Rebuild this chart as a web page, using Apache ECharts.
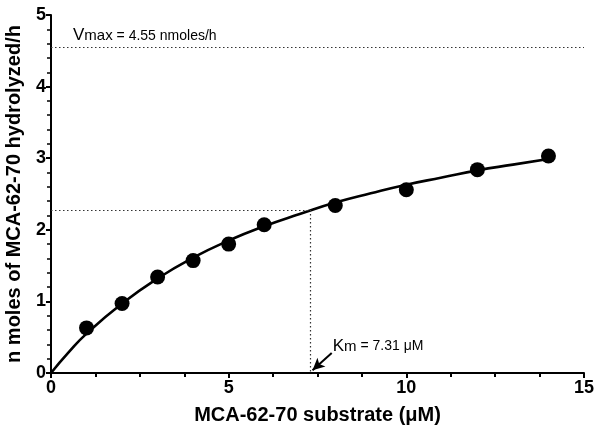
<!DOCTYPE html>
<html>
<head>
<meta charset="utf-8">
<script src="https://cdn.jsdelivr.net/npm/echarts@6/dist/echarts.min.js"></script>
<style>
  html, body { margin: 0; padding: 0; background: #fff; }
  #chart { width: 602px; height: 439px; }
</style>
</head>
<body>
<div id="chart"></div>
<script>
// measured substrate concentrations (µM) and rates (nmoles/h)
const substrate = [1, 2, 3, 4, 5, 6, 8, 10, 12, 14];
const rate = [0.63, 0.97, 1.34, 1.57, 1.80, 2.07, 2.34, 2.56, 2.84, 3.03];

// fitted curve
const fitX = [0, 0.5, 1, 2, 3, 4, 5, 6, 7, 8, 9, 10, 11, 12, 13, 14];
const fitY = [0, 0.29, 0.55, 0.97, 1.32, 1.61, 1.85, 2.05, 2.22, 2.38, 2.51, 2.63, 2.73, 2.83, 2.91, 2.99];

const vmax = 4.55;
const km = 7.31;
const halfV = 2.275;

// Km pointer: tail and tip in data units
const arrowX = [7.9, 7.36];
const arrowY = [0.28, 0.04];

const xTicks = [0, 5, 10, 15];
const yTicks = [0, 1, 2, 3, 4, 5];

const font = "'Liberation Sans', Arial, sans-serif";
const dotted = { color: "#333", width: 1.2, type: [1.5, 2.5] };

const chart = echarts.init(document.getElementById("chart"));

chart.setOption({
  animation: false,
  backgroundColor: "#fff",
  grid: { left: 51, right: 18, top: 15, bottom: 66, outerBoundsMode: "none" },
  xAxis: {
    type: "value",
    min: xTicks[0],
    max: xTicks[xTicks.length - 1],
    interval: 5,
    name: "MCA-62-70 substrate (\u03bcM)",
    nameLocation: "middle",
    nameGap: 32,
    nameTextStyle: { fontFamily: font, fontWeight: "bold", fontSize: 20, color: "#000" },
    axisLine: { lineStyle: { color: "#000", width: 2 } },
    axisTick: { length: 5, lineStyle: { color: "#000", width: 2 } },
    minorTick: { show: true, splitNumber: 4, length: 4, lineStyle: { color: "#000", width: 2 } },
    splitLine: { show: false },
    axisLabel: { fontFamily: font, fontWeight: "bold", fontSize: 18, color: "#000", margin: 6 }
  },
  yAxis: {
    type: "value",
    min: yTicks[0],
    max: yTicks[yTicks.length - 1],
    interval: 1,
    name: "n moles of MCA-62-70 hydrolyzed/h",
    nameLocation: "middle",
    nameGap: 27,
    nameTextStyle: { fontFamily: font, fontWeight: "bold", fontSize: 20, color: "#000" },
    axisLine: { show: true, lineStyle: { color: "#000", width: 2 } },
    axisTick: { length: 5, lineStyle: { color: "#000", width: 2 } },
    minorTick: { show: true, splitNumber: 5, length: 4, lineStyle: { color: "#000", width: 1.5 } },
    splitLine: { show: false },
    axisLabel: { fontFamily: font, fontWeight: "bold", fontSize: 18, color: "#000", margin: 5 }
  },
  series: [
    {
      name: "guides",
      type: "line",
      data: [],
      silent: true,
      markLine: {
        silent: true,
        symbol: "none",
        label: { show: false },
        lineStyle: dotted,
        data: [
          [{ coord: [0, vmax] }, { coord: [15, vmax] }],
          [{ coord: [0, halfV] }, { coord: [km, halfV] }],
          [{ coord: [km, halfV] }, { coord: [km, 0] }]
        ]
      }
    },
    {
      name: "arrow",
      type: "line",
      silent: true,
      clip: false,
      showSymbol: true,
      lineStyle: { color: "#000", width: 2 },
      itemStyle: { color: "#000" },
      data: [
        { value: [arrowX[0], arrowY[0]], symbol: "none" },
        { value: [arrowX[1], arrowY[1]], symbol: "arrow", symbolSize: [9, 12], symbolRotate: 132 }
      ],
      z: 5
    },
    {
      name: "fit",
      type: "line",
      data: fitX.map((x, i) => [x, fitY[i]]),
      smooth: true,
      showSymbol: false,
      lineStyle: { color: "#000", width: 2.6 },
      z: 3
    },
    {
      name: "measured",
      type: "scatter",
      data: substrate.map((x, i) => [x, rate[i]]),
      symbol: "circle",
      symbolSize: 15,
      itemStyle: { color: "#000", opacity: 1 },
      z: 4
    },
    {
      name: "labels",
      type: "scatter",
      symbolSize: 0,
      silent: true,
      data: [
        { value: [0.62, 4.71], name: "vmax" },
        { value: [7.93, 0.37], name: "km" }
      ],
      label: {
        show: true,
        position: "right",
        distance: 0,
        fontFamily: font,
        color: "#000",
        formatter: (p) =>
          p.name === "vmax"
            ? "{big|V}{sub|max}{txt| = 4.55 nmoles/h}"
            : "{big|K}{sub|m}{txt| = 7.31 \u03bcM}",
        rich: {
          big: { fontFamily: font, fontSize: 17, color: "#000" },
          sub: { fontFamily: font, fontSize: 15, color: "#000" },
          txt: { fontFamily: font, fontSize: 14, color: "#000" }
        }
      },
      itemStyle: { opacity: 1 }
    }
  ]
});
</script>
</body>
</html>
